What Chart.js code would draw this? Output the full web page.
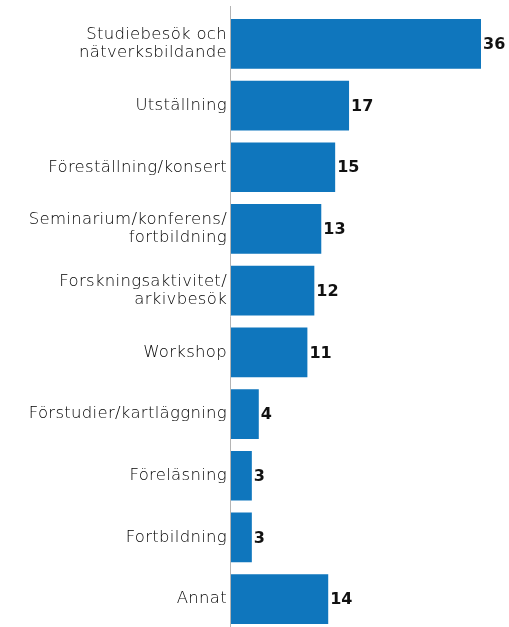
<!DOCTYPE html>
<html><head><meta charset="utf-8">
<script src="https://cdn.jsdelivr.net/npm/chart.js@4"></script>
<style>html,body{margin:0;padding:0;background:#fff;overflow:hidden}</style>
</head><body><canvas id="c" width="509" height="627" style="display:block;width:509px;height:627px"></canvas>
<script>
const categories = [
  ["Studiebesök och","nätverksbildande"],
  "Utställning",
  "Föreställning/konsert",
  ["Seminarium/konferens/","fortbildning"],
  ["Forskningsaktivitet/","arkivbesök"],
  "Workshop",
  "Förstudier/kartläggning",
  "Föreläsning",
  "Fortbildning",
  "Annat"
];
const values = [36, 17, 15, 13, 12, 11, 4, 3, 3, 14];

const decor = {
  id: 'decor',
  afterLayout(chart) {
    // the reference's plot area runs slightly past the bottom edge of the picture
    const s = chart.scales.y;
    s.bottom += 3; s.height = s.bottom - s.top;
    chart.chartArea.bottom += 3; chart.chartArea.height += 3;
    s.configure();
  },
  beforeDraw(chart) {
    chart.ctx.letterSpacing = '0.3px';
  },
  afterDatasetsDraw(chart) {
    const ctx = chart.ctx;
    const meta = chart.getDatasetMeta(0);
    const area = chart.chartArea;
    ctx.save();
    ctx.letterSpacing = '0px';
    ctx.strokeStyle = '#b4b4b4';
    ctx.lineWidth = 1;
    ctx.beginPath();
    ctx.moveTo(area.left - 0.5, area.top - 7);
    ctx.lineTo(area.left - 0.5, chart.height);
    ctx.stroke();
    ctx.font = 'bold 16px "DejaVu Sans"';
    ctx.fillStyle = '#111';
    ctx.textAlign = 'left';
    ctx.textBaseline = 'middle';
    meta.data.forEach((bar, i) => {
      ctx.fillText(String(values[i]), bar.x + 2, bar.y + 1);
    });
    ctx.restore();
  }
};

new Chart(document.getElementById('c'), {
  type: 'bar',
  data: { labels: categories, datasets: [{ data: values, backgroundColor: '#0f76bd', barPercentage: 0.805, categoryPercentage: 1 }] },
  options: {
    indexAxis: 'y',
    responsive: false,
    animation: false,
    layout: { padding: { top: 13, bottom: 0, right: 28, left: 0 } },
    plugins: { legend: { display: false }, tooltip: { enabled: false } },
    scales: {
      x: { display: false, min: 0, max: 36 },
      y: {
        afterFit(s) { s.width = 231; s.paddingTop = 0; s.paddingBottom = 0; },
        grid: { display: false, drawTicks: false },
        border: { display: false },
        ticks: { padding: 4, color: '#000', font: { family: '"DejaVu Sans"', size: 16.5, weight: 200, lineHeight: 1.12 } }
      }
    }
  },
  plugins: [decor]
});
</script></body></html>
